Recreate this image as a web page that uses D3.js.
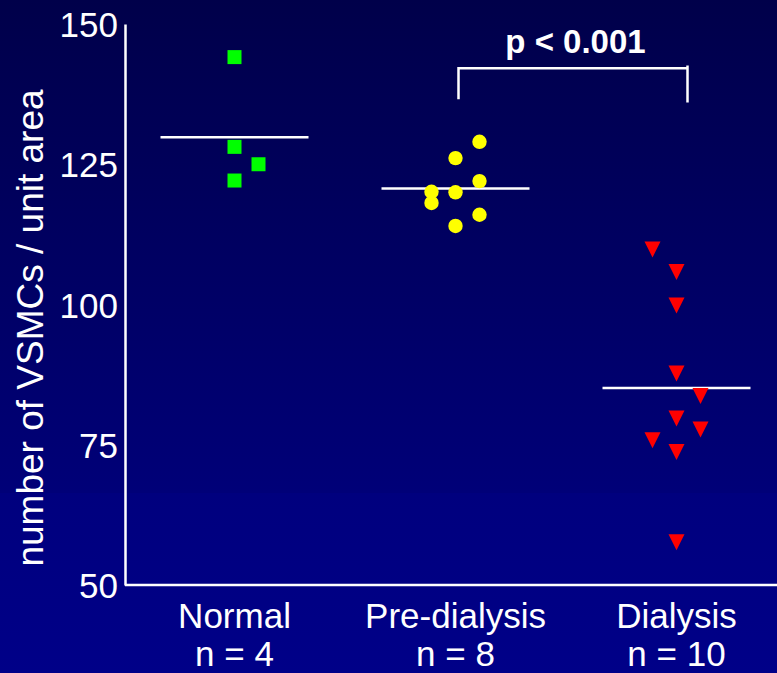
<!DOCTYPE html>
<html>
<head>
<meta charset="utf-8">
<script src="https://cdn.jsdelivr.net/npm/d3@7"></script>
<style>
  html, body { margin: 0; padding: 0; background: #000060; }
  svg { display: block; }
  text { font-family: "Liberation Sans", Arial, sans-serif; fill: #ffffff; }
</style>
</head>
<body>
<svg id="chart" width="777" height="673"></svg>
<script>
// Groups shown along the x axis, with sample sizes
const categories = ["Normal", "Pre-dialysis", "Dialysis"];
const sampleSizes = [4, 8, 10];

// VSMC counts per unit area, one array per group
const normalValues = [144.1, 128.1, 125.0, 122.1];
const preDialysisValues = [129.0, 126.1, 122.0, 120.1, 120.0, 118.1, 116.0, 114.0];
const dialysisValues = [109.8, 105.8, 99.8, 87.7, 83.7, 79.7, 77.7, 75.8, 73.7, 57.6];

// Side-by-side column slot of each point within its group (-1 left, 0 centre, 1 right)
const normalSlots = [0, 0, 1, 0];
const preDialysisSlots = [1, 0, 1, -1, 0, -1, 1, 0];
const dialysisSlots = [-1, 0, 0, 0, 1, 0, 1, -1, 0, 0];

// Y axis ticks
const yTicks = [50, 75, 100, 125, 150];

// Significance annotation
const pLabel = "p < 0.001";
const pPair = ["Pre-dialysis", "Dialysis"];

const groupValues = [normalValues, preDialysisValues, dialysisValues];
const groupSlots = [normalSlots, preDialysisSlots, dialysisSlots];
const groupColors = ["#00ff00", "#ffff00", "#ff0000"];

const W = 777, H = 673;
const svg = d3.select("#chart");

// Background: navy gradient, darker at the top
const defs = svg.append("defs");
const grad = defs.append("linearGradient")
  .attr("id", "bg").attr("x1", 0).attr("y1", 0).attr("x2", 0).attr("y2", 1);
grad.append("stop").attr("offset", "0%").attr("stop-color", "#00004a");
grad.append("stop").attr("offset", "73.2%").attr("stop-color", "#000078");
grad.append("stop").attr("offset", "73.3%").attr("stop-color", "#00007e");
grad.append("stop").attr("offset", "100%").attr("stop-color", "#000088");
svg.append("rect").attr("width", W).attr("height", H).attr("fill", "url(#bg)");

// Scales
const x = d3.scaleBand().domain(categories).range([124, 787]).padding(0);
const xc = c => x(c) + x.bandwidth() / 2;
const slot = d3.scaleLinear().domain([-1, 1]).range([-24, 24]);
const y = d3.scaleLinear().domain([50, 150]).range([585, 24]);

// Y axis
const yAxis = svg.append("g")
  .attr("transform", "translate(125,0)")
  .call(d3.axisLeft(y).tickValues(yTicks).tickSize(0).tickSizeOuter(0).tickPadding(7).tickFormat(d3.format("d")));
yAxis.select(".domain").attr("stroke", "#ffffff").attr("stroke-width", 2.5);
yAxis.selectAll(".tick text")
  .attr("fill", "#ffffff")
  .style("font-family", "'Liberation Sans', Arial, sans-serif")
  .style("font-size", "35px")
  .attr("dy", "0.36em");

// X axis with two-line group labels
const xAxis = svg.append("g")
  .attr("transform", "translate(0,585)")
  .call(d3.axisBottom(x).tickSize(0).tickSizeOuter(0).tickFormat(() => ""));
xAxis.select(".domain").attr("stroke", "#ffffff").attr("stroke-width", 2.5)
  .attr("d", "M125,0H" + W);
xAxis.selectAll(".tick").each(function(d, i) {
  const t = d3.select(this).select("text").text(null)
    .attr("y", 0).attr("dy", null)
    .style("font-family", "'Liberation Sans', Arial, sans-serif")
    .style("font-size", "35px")
    .attr("fill", "#ffffff");
  t.append("tspan").attr("x", 0).attr("y", 43).text(d);
  t.append("tspan").attr("x", 0).attr("y", 81).text("n = " + sampleSizes[i]);
});

// Y axis title
svg.append("text")
  .attr("transform", "translate(43,328) rotate(-90)")
  .attr("text-anchor", "middle")
  .style("font-size", "37px")
  .text("number of VSMCs / unit area");

// Marker shapes
const downTriangle = {
  draw(ctx, size) {
    const h = Math.sqrt(size);
    ctx.moveTo(-h / 2, -h / 2);
    ctx.lineTo(h / 2, -h / 2);
    ctx.lineTo(0, h / 2);
    ctx.closePath();
  }
};
const shapes = [
  d3.symbol().type(d3.symbolSquare).size(14 * 14),
  d3.symbol().type(d3.symbolCircle).size(Math.PI * 7.2 * 7.2),
  d3.symbol().type(downTriangle).size(16 * 16)
];

// Mean lines
categories.forEach((c, i) => {
  const m = d3.mean(groupValues[i]);
  svg.append("line")
    .attr("x1", xc(c) - 74).attr("x2", xc(c) + 74)
    .attr("y1", y(m)).attr("y2", y(m))
    .attr("stroke", "#ffffff").attr("stroke-width", 2.5);
});

// Individual points
categories.forEach((c, i) => {
  const pts = groupValues[i].map((v, k) => ({ v, s: groupSlots[i][k] }));
  svg.append("g").selectAll("path")
    .data(pts)
    .join("path")
    .attr("d", shapes[i])
    .attr("transform", d => `translate(${xc(c) + slot(d.s)},${y(d.v)})`)
    .attr("fill", groupColors[i]);
});

// Significance bracket between pre-dialysis and dialysis
const bx1 = xc(pPair[0]) + 3, bx2 = xc(pPair[1]) + 12;
const bTop = y(142.1);
svg.append("path")
  .attr("d", `M${bx1},${y(136.6)}V${bTop}H${bx2}M${bx2 - 1},${y(142.6)}V${y(136.0)}`)
  .attr("fill", "none").attr("stroke", "#ffffff").attr("stroke-width", 2.5);
svg.append("text")
  .attr("x", (bx1 + bx2) / 2 + 2).attr("y", 53)
  .attr("text-anchor", "middle")
  .style("font-size", "33px").style("font-weight", "bold")
  .text(pLabel);
</script>
</body>
</html>
